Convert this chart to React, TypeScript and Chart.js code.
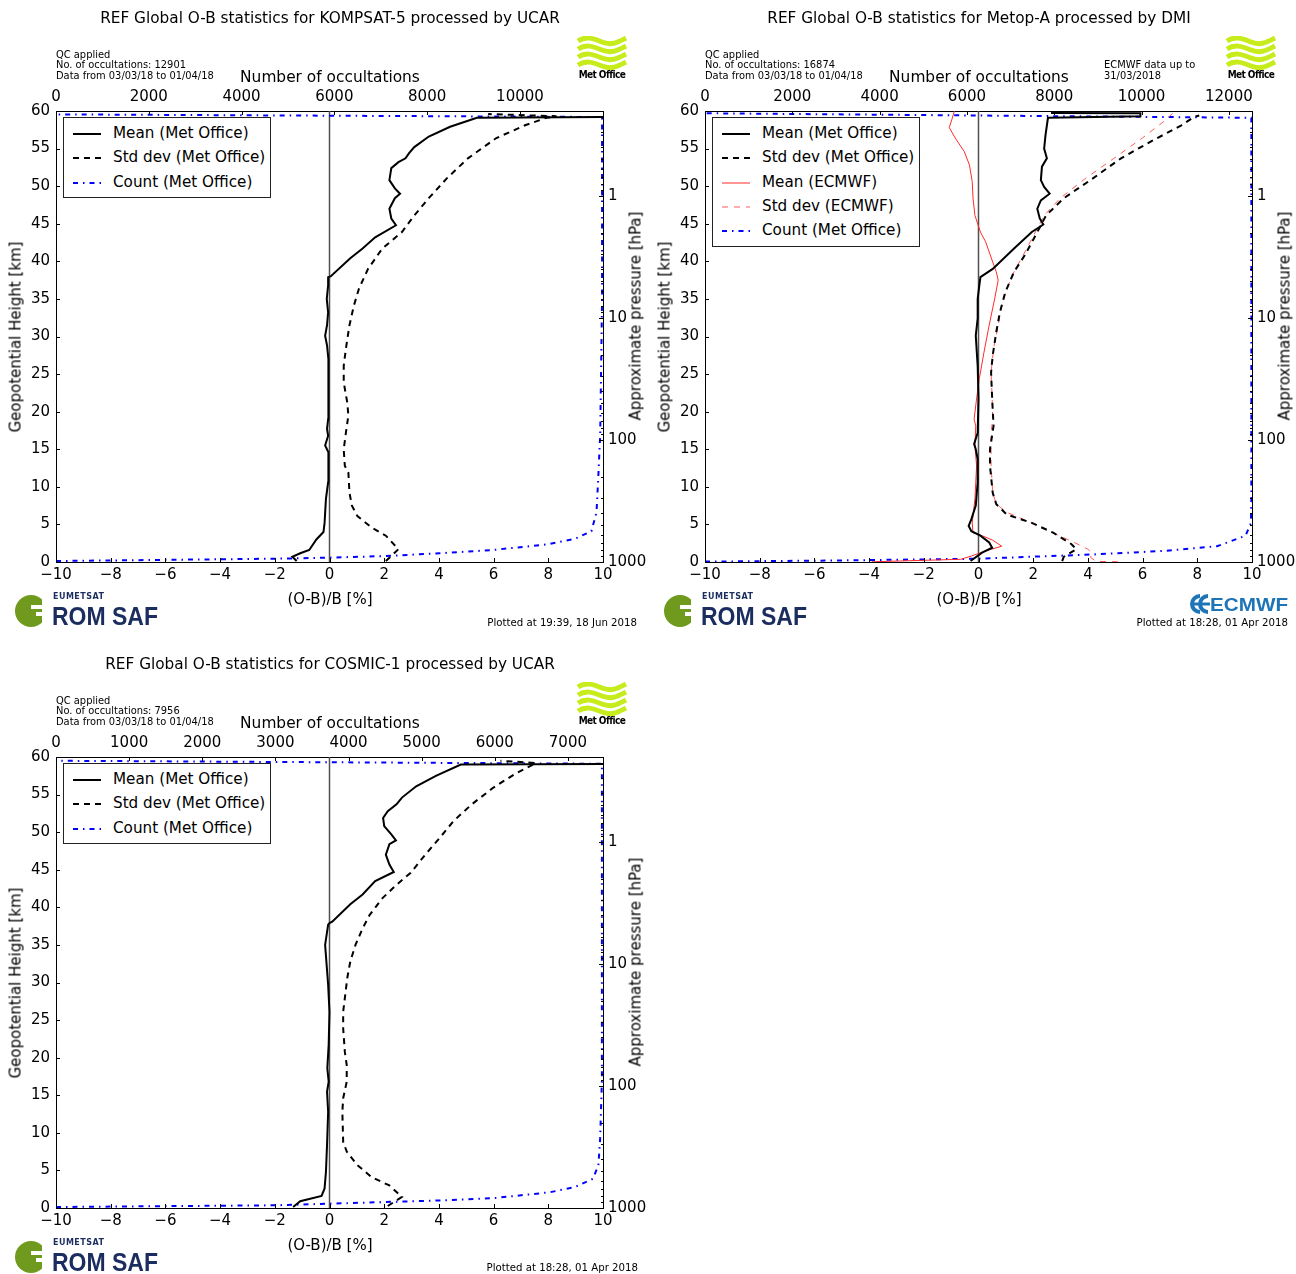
import React, { useEffect, useRef } from "react";
import { Chart, registerables } from "chart.js";

Chart.register(...registerables);

const FONT = "'DejaVu Sans', 'Bitstream Vera Sans', Verdana, sans-serif";

// ---------- KOMPSAT-5 (UCAR) ----------
const kompsatMeanX = [-1.2, -1.36, -1.07, -0.74, -0.48, -0.22, -0.18, -0.13, -0.05, -0.03, -0.05, -0.16, -0.05, -0.09, -0.05, -0.05, -0.03, -0.09, -0.16, -0.09, -0.05, -0.1, -0.05, -0.05, 0.04, 0.76, 1.21, 1.67, 2.43, 2.26, 2.19, 2.39, 2.58, 2.39, 2.19, 2.26, 2.52, 2.78, 2.91, 3.1, 3.63, 4.41, 5.39, 12];
const kompsatMeanH = [0.13, 0.7, 1.16, 1.6, 3.0, 4.0, 5.2, 8.4, 10.6, 12.8, 14.6, 15.5, 16.8, 17.7, 19, 23.9, 27, 28.8, 30.1, 31.5, 33.2, 35, 36.8, 37.9, 38.0, 40.4, 41.7, 43.2, 44.8, 45.7, 47, 48.4, 49, 49.7, 50.8, 52.4, 53.2, 53.7, 54.4, 55.2, 56.6, 57.9, 59.1, 59.25];
const kompsatStdX = [2.06, 2.52, 2.06, 1.54, 1.02, 0.82, 0.73, 0.69, 0.56, 0.52, 0.6, 0.69, 0.65, 0.52, 0.52, 0.6, 0.73, 0.89, 1.08, 1.41, 1.93, 2.65, 3.1, 3.63, 4.28, 5.06, 6.1, 7.15, 7.93, 8.3, 5.8];
const kompsatStdH = [0.13, 1.7, 3.5, 4.6, 6.1, 7.5, 9.2, 11.9, 12.8, 15, 17.2, 19.5, 21.2, 23.9, 26.1, 28.4, 31.5, 34.1, 36.4, 39, 41.7, 43.9, 46.1, 48.4, 51, 53.7, 56.4, 58.1, 59.1, 59.3, 59.6];
const kompsatCount = [0, 4730, 5920, 7110, 8270, 9420, 10610, 11190, 11540, 11650, 11690, 11730, 11770, 11770, 0];
const kompsatCountH = [0.13, 0.44, 0.58, 0.8, 1.16, 1.6, 2.36, 3.1, 4.1, 6.6, 11.5, 17, 35, 59.2, 59.55];

// ---------- Metop-A (DMI) ----------
const metopMeanX = [-0.29, 0.13, 0.5, 0.39, 0.07, -0.26, -0.36, -0.26, -0.1, -0.03, -0.03, -0.1, -0.16, -0.03, 0, -0.03, -0.1, -0.03, -0.03, 0.03, 0.07, 0.52, 1.3, 1.95, 2.37, 2.24, 2.15, 2.28, 2.6, 2.4, 2.28, 2.32, 2.5, 2.4, 2.45, 2.54, 5.92, 5.92, 2.65];
const metopMeanH = [0.13, 1.24, 1.9, 2.6, 3.5, 4.1, 4.8, 5.7, 7.5, 10.6, 13.7, 15, 15.7, 17.2, 21.7, 26.1, 30.1, 32.4, 35, 36.8, 37.9, 39, 41.7, 43.9, 44.9, 45.7, 47, 48.1, 49, 49.9, 50.8, 52.6, 53.7, 55, 56.8, 59.1, 59.3, 59.7, 59.75];
const metopStdX = [3.06, 3.12, 3.58, 3.39, 2.73, 1.95, 1.04, 0.65, 0.52, 0.42, 0.42, 0.55, 0.5, 0.46, 0.52, 0.65, 0.78, 0.98, 1.3, 1.69, 2.02, 2.47, 3.12, 4.17, 5.21, 6.38, 7.42, 7.88, 8.07];
const metopStdH = [0.13, 0.7, 1.7, 2.4, 3.9, 5.2, 6.3, 7.7, 9.2, 12.8, 15, 18.1, 21.7, 25.2, 27.5, 30.6, 33.2, 35.9, 38.6, 40.8, 43, 46.1, 48.4, 51, 53.7, 56.1, 58.1, 59.2, 59.4];
const ecmwfMeanX = [-3.9, -0.65, -0.26, 0.26, 0.85, 0.52, 0.13, -0.2, -0.23, -0.13, -0.07, -0.13, -0.1, -0.16, -0.07, 0.03, 0.2, 0.39, 0.59, 0.72, 0.65, 0.52, 0.26, 0.07, -0.13, -0.2, -0.23, -0.33, -0.52, -0.85, -1.07, -0.98, -0.88];
const ecmwfMeanH = [0.03, 0.36, 0.8, 1.47, 2.1, 2.9, 3.5, 3.9, 5.2, 8.4, 12.8, 15.5, 18.1, 19, 21.7, 24.4, 27.9, 31.5, 35, 37.5, 38.6, 39.9, 42.6, 43.9, 46.1, 48.4, 50.6, 52.8, 54.6, 56.4, 57.8, 58.8, 60];
const ecmwfStdX = [5.1, 4.3, 4.1, 4.14, 4.0, 3.5, 2.7, 1.95, 1.04, 0.65, 0.52, 0.46, 0.46, 0.52, 0.5, 0.46, 0.55, 0.72, 0.85, 1.04, 1.3, 1.63, 1.95, 2.4, 2.99, 3.9, 4.95, 5.99, 6.77, 7.1];
const ecmwfStdH = [0.03, 0.08, 0.6, 1.24, 1.7, 2.6, 3.9, 5.2, 6.6, 7.7, 9.2, 12.8, 17.2, 19, 21.7, 25.2, 28.4, 31.5, 34.1, 36.4, 38.6, 40.8, 43, 46.1, 48.4, 51, 53.7, 56.4, 58.6, 59.7];
const metopCount = [0, 3000, 6265, 8875, 10507, 11730, 12383, 12505, 12515, 12515, 0];
const metopCountH = [0.05, 0.2, 0.44, 1.0, 1.47, 2.1, 3.5, 5.2, 8.4, 59.1, 59.7];

// ---------- COSMIC-1 (UCAR) ----------
const cosmicMeanX = [-1.33, -1.07, -0.29, -0.18, -0.13, -0.09, -0.05, -0.09, -0.03, -0.08, -0.03, 0, -0.05, -0.16, -0.05, 0, 0.1, 0.76, 1.21, 1.67, 2.35, 2.19, 2.06, 2.19, 2.43, 2.26, 2.0, 1.96, 2.13, 2.45, 2.65, 3.17, 3.89, 4.8, 12];
const cosmicMeanH = [0.13, 0.9, 1.6, 2.6, 4.8, 8.4, 12.8, 15.5, 16.8, 18.6, 21.7, 26.1, 29.7, 35, 37.7, 37.9, 38.1, 40.4, 41.7, 43.5, 44.7, 45.7, 47, 48.4, 48.9, 49.7, 50.8, 51.9, 52.8, 53.7, 54.6, 56.1, 57.5, 59, 59.1];
const cosmicStdX = [2.13, 2.65, 2.19, 1.54, 1.02, 0.63, 0.5, 0.47, 0.5, 0.63, 0.63, 0.56, 0.5, 0.5, 0.56, 0.65, 0.76, 0.95, 1.21, 1.47, 1.93, 2.45, 2.97, 3.5, 4.02, 4.54, 5.2, 5.98, 6.76, 7.55, 6.25];
const cosmicStdH = [0.27, 1.47, 3.0, 4.1, 5.7, 7.5, 8.8, 12.8, 14.6, 16.8, 19, 20.8, 23.9, 26.1, 27.9, 30.6, 32.8, 35, 37.2, 39, 41.2, 43, 44.6, 47, 49.2, 51.5, 53.7, 55.9, 57.7, 59.2, 59.5];
const cosmicCount = [0, 3000, 3757, 4513, 5245, 5977, 6758, 7100, 7344, 7417, 7441, 7465, 7465, 0];
const cosmicCountH = [0.13, 0.36, 0.58, 0.8, 1.0, 1.3, 2.1, 2.8, 3.9, 5.7, 9.2, 17, 59.1, 59.5];

// ---------- axes ----------
const obTicks = [-10, -8, -6, -4, -2, 0, 2, 4, 6, 8, 10];
const heightTicks = [0, 5, 10, 15, 20, 25, 30, 35, 40, 45, 50, 55, 60];
const pressureLabels = [1, 10, 100, 1000];
const pressureTop = 0.201;
const pressureBottom = 1000;

const styles: Record<string, { color: string; width: number; dash: number[] }> = {
  meanMO: { color: "#000000", width: 2, dash: [] },
  stdMO: { color: "#000000", width: 2, dash: [6, 5] },
  meanEC: { color: "#ff2a2a", width: 1, dash: [] },
  stdEC: { color: "#ff5a5a", width: 1, dash: [6, 6] },
  count: { color: "#0000ff", width: 2, dash: [5, 5, 1.5, 5] },
};

const PLOT_L = 56;
const PLOT_T = 111;
const PLOT_R = 603;
const PLOT_B = 562;
const PANEL_H = 640;

function ds(xs: number[], hs: number[], st: { color: string; width: number; dash: number[] }, xAxisID = "x") {
  return {
    data: xs.map((x, i) => ({ x, y: hs[i] })),
    borderColor: st.color,
    borderWidth: st.width,
    borderDash: st.dash,
    xAxisID,
    yAxisID: "y",
    pointRadius: 0,
    fill: false,
    tension: 0,
  };
}

const fmt = (v: number) => String(v).replace("-", "\u2212");

const inwardTicks = {
  id: "inwardTicks",
  afterDatasetsDraw(chart: any) {
    const { ctx, chartArea: a, scales } = chart;
    ctx.save();
    ctx.strokeStyle = "#000";
    ctx.lineWidth = 1;
    const seg = (x1: number, y1: number, x2: number, y2: number) => {
      ctx.beginPath();
      ctx.moveTo(x1, y1);
      ctx.lineTo(x2, y2);
      ctx.stroke();
    };
    scales.x.ticks.forEach((t: any) => {
      const p = Math.round(scales.x.getPixelForValue(t.value)) + 0.5;
      seg(p, a.bottom, p, a.bottom - 4);
    });
    scales.xTop.ticks.forEach((t: any) => {
      const p = Math.round(scales.xTop.getPixelForValue(t.value)) + 0.5;
      seg(p, a.top, p, a.top + 4);
    });
    scales.y.ticks.forEach((t: any) => {
      const p = Math.round(scales.y.getPixelForValue(t.value)) + 0.5;
      seg(a.left, p, a.left + 4, p);
    });
    const yp = scales.yP;
    [0.1, 1, 10, 100].forEach((dec) => {
      [1, 2, 3, 4, 5, 6, 7, 8, 9].forEach((m) => {
        const v = dec * m;
        if (v < pressureTop || v > pressureBottom) return;
        const p = Math.round(yp.getPixelForValue(v)) + 0.5;
        seg(a.right, p, a.right - (m === 1 ? 4 : 2), p);
      });
    });
    ctx.restore();
  },
};

function PanelChart({ width, countMax, countStep, datasets }: { width: number; countMax: number; countStep: number; datasets: any[] }) {
  const ref = useRef<HTMLCanvasElement>(null);
  useEffect(() => {
    const tickFont = { family: FONT, size: 15 };
    const countTicks: number[] = [];
    for (let v = 0; v <= countMax; v += countStep) countTicks.push(v);
    const chart = new Chart(ref.current as HTMLCanvasElement, {
      type: "line",
      data: { datasets },
      options: {
        responsive: false,
        maintainAspectRatio: false,
        animation: false,
        events: [],
        layout: { padding: 0, autoPadding: false },
        plugins: { legend: { display: false }, tooltip: { enabled: false }, title: { display: false } },
        scales: {
          x: {
            type: "linear",
            position: "bottom",
            min: -10,
            max: 10,
            afterBuildTicks: (s: any) => { s.ticks = obTicks.map((v) => ({ value: v })); },
            ticks: { color: "#000", font: tickFont, padding: 4, maxRotation: 0, autoSkip: false, callback: (v: any) => fmt(v) },
            grid: { display: false, drawTicks: false },
            border: { display: true, color: "#000", width: 1 },
            afterFit: (s: any) => { s.height = PANEL_H - PLOT_B; },
          },
          xTop: {
            type: "linear",
            position: "top",
            min: 0,
            max: countMax,
            afterBuildTicks: (s: any) => { s.ticks = countTicks.map((v) => ({ value: v })); },
            ticks: { color: "#000", font: tickFont, padding: 5, maxRotation: 0, autoSkip: false, callback: (v: any) => String(v) },
            grid: { display: false, drawTicks: false },
            border: { display: true, color: "#000", width: 1 },
            afterFit: (s: any) => { s.height = PLOT_T; },
          },
          y: {
            type: "linear",
            position: "left",
            min: 0,
            max: 60,
            afterBuildTicks: (s: any) => { s.ticks = heightTicks.map((v) => ({ value: v })); },
            ticks: { color: "#000", font: tickFont, padding: 6, autoSkip: false, callback: (v: any) => String(v) },
            grid: { display: false, drawTicks: false },
            border: { display: true, color: "#000", width: 1 },
            afterFit: (s: any) => { s.width = PLOT_L; },
          },
          yP: {
            type: "logarithmic",
            position: "right",
            min: pressureTop,
            max: pressureBottom,
            reverse: true,
            afterBuildTicks: (s: any) => { s.ticks = pressureLabels.map((v) => ({ value: v, major: true })); },
            ticks: { color: "#000", font: tickFont, padding: 5, autoSkip: false, callback: (v: any) => String(v) },
            grid: { display: false, drawTicks: false },
            border: { display: true, color: "#000", width: 1 },
            afterFit: (s: any) => { s.width = width - PLOT_R; },
          },
        },
      } as any,
      plugins: [inwardTicks],
    });
    return () => chart.destroy();
  }, []);
  return <canvas ref={ref} width={width} height={PANEL_H} style={{ position: "absolute", left: 0, top: 0 }} />;
}

function Txt({ x, y, size, anchor = "start", children, weight, color }: any) {
  const tx = anchor === "middle" ? "-50%" : anchor === "end" ? "-100%" : "0";
  return (
    <div
      style={{
        position: "absolute",
        left: x,
        top: y,
        transform: `translate(${tx}, -50%)`,
        fontFamily: FONT,
        fontSize: size,
        lineHeight: 1,
        whiteSpace: "nowrap",
        fontWeight: weight || "normal",
        color: color || "#000",
      }}
    >
      {children}
    </div>
  );
}

function VTxt({ x, y, size, children }: any) {
  return (
    <div
      style={{
        position: "absolute",
        left: x,
        top: y,
        transform: "translate(-50%, -50%) rotate(-90deg)",
        fontFamily: FONT,
        fontSize: size,
        lineHeight: 1,
        whiteSpace: "nowrap",
        color: "#000",
      }}
    >
      {children}
    </div>
  );
}

function Legend({ items }: { items: { label: string; st: string }[] }) {
  const rowH = 24.3;
  return (
    <div
      style={{
        position: "absolute",
        left: 63,
        top: 117,
        width: 206,
        height: 8 + items.length * rowH - 2,
        border: "1px solid #222",
        background: "#fff",
      }}
    >
      {items.map((it, i) => {
        const st = styles[it.st];
        const cy = 4 + rowH * i + rowH / 2;
        return (
          <React.Fragment key={i}>
            <svg style={{ position: "absolute", left: 9, top: cy - 5 }} width={30} height={10}>
              <line x1={0} y1={5} x2={28} y2={5} stroke={st.color} strokeWidth={st.width} strokeDasharray={st.dash.length ? st.dash.join(",") : undefined} />
            </svg>
            <Txt x={49} y={cy} size={15.2}>{it.label}</Txt>
          </React.Fragment>
        );
      })}
    </div>
  );
}

function MetOfficeLogo() {
  const c = "#c6ec1c";
  return (
    <div style={{ position: "absolute", left: 576, top: 36, width: 52, height: 46 }}>
      <svg width={52} height={34} style={{ position: "absolute", left: 0, top: 0 }}>
        <path d="M2,5 C10,0 16,2 26,6 C36,10 42,6 50,2" stroke={c} strokeWidth={5} fill="none" />
        <path d="M2,13 C10,8 16,10 26,14 C36,18 42,14 50,10" stroke={c} strokeWidth={5} fill="none" />
        <path d="M2,21 C10,16 16,18 26,22 C36,26 42,22 50,18" stroke={c} strokeWidth={5} fill="none" />
        <path d="M2,29 C10,24 16,26 26,30 C36,34 42,30 50,26" stroke={c} strokeWidth={5} fill="none" />
      </svg>
      <Txt x={26} y={39} size={10} anchor="middle" weight="bold">
        <span style={{ letterSpacing: "-0.6px", fontFamily: "'Liberation Sans Narrow', 'DejaVu Sans Condensed', 'Liberation Sans', sans-serif" }}>Met Office</span>
      </Txt>
    </div>
  );
}

function RomSafLogo() {
  const navy = "#1b2d5f";
  return (
    <svg style={{ position: "absolute", left: 12, top: 590 }} width={150} height={40}>
      <circle cx={19} cy={21} r={16} fill="#6f9a1e" />
      <rect x={19} y={15} width={18} height={4} fill="#fff" />
      <rect x={24} y={22} width={13} height={4} fill="#fff" />
      <path d="M30,5 L40,12 L40,30 L30,37 Z" fill="#fff" />
      <text x={41} y={9} fontFamily={FONT} fontSize={8} fontWeight="bold" fill={navy} textLength={51}>EUMETSAT</text>
      <text x={40} y={35} fontFamily="'Liberation Sans', 'DejaVu Sans', sans-serif" fontSize={25} fontWeight="bold" fill={navy} textLength={106} lengthAdjust="spacingAndGlyphs">ROM SAF</text>
    </svg>
  );
}

function EcmwfLogo() {
  const blue = "#1d74b7";
  return (
    <svg style={{ position: "absolute", left: 540, top: 593 }} width={102} height={22}>
      <path d="M11,3 A8,8 0 1 0 11,19" stroke={blue} strokeWidth={4} fill="none" />
      <path d="M19,3 A8,8 0 1 0 19,19" stroke={blue} strokeWidth={4} fill="none" />
      <rect x={5} y={9.5} width={16} height={3} fill={blue} />
      <text x={21} y={18} fontFamily="'Liberation Sans', sans-serif" fontSize={19} fontWeight="bold" fill={blue} textLength={78} lengthAdjust="spacingAndGlyphs">ECMWF</text>
    </svg>
  );
}

interface PanelDef {
  left: number;
  top: number;
  width: number;
  title: string;
  nOcc: number;
  plotted: string;
  plottedY: number;
  plottedX: number;
  countMax: number;
  countStep: number;
  datasets: any[];
  legend: { label: string; st: string }[];
  ecmwf?: boolean;
}

function Panel(p: PanelDef) {
  return (
    <div style={{ position: "absolute", left: p.left, top: p.top, width: p.width, height: PANEL_H, overflow: "hidden" }}>
      <PanelChart width={p.width} countMax={p.countMax} countStep={p.countStep} datasets={p.datasets} />
      <Txt x={330} y={19} size={15.3} anchor="middle">{p.title}</Txt>
      <Txt x={56} y={55} size={9.9}>QC applied</Txt>
      <Txt x={56} y={65} size={9.9}>No. of occultations: {p.nOcc}</Txt>
      <Txt x={56} y={75.5} size={9.9}>Data from 03/03/18 to 01/04/18</Txt>
      {p.ecmwf && <Txt x={455} y={65} size={9.9}>ECMWF data up to</Txt>}
      {p.ecmwf && <Txt x={455} y={75.5} size={9.9}>31/03/2018</Txt>}
      <Txt x={330} y={78} size={15.4} anchor="middle">Number of occultations</Txt>
      <MetOfficeLogo />
      <Legend items={p.legend} />
      <Txt x={330} y={599} size={15} anchor="middle">(O-B)/B [%]</Txt>
      <VTxt x={16} y={337} size={15}>Geopotential Height [km]</VTxt>
      <VTxt x={636} y={316} size={15}>Approximate pressure [hPa]</VTxt>
      <RomSafLogo />
      {p.ecmwf && <EcmwfLogo />}
      <Txt x={p.plottedX} y={p.plottedY} size={10.2} anchor="end">{p.plotted}</Txt>
    </div>
  );
}

const zeroH = [0, 60];
const zeroX = [0, 0];
const zeroStyle = { color: "#505050", width: 1.5, dash: [] as number[] };

export default function App() {
  const moLegend = [
    { label: "Mean (Met Office)", st: "meanMO" },
    { label: "Std dev (Met Office)", st: "stdMO" },
    { label: "Count (Met Office)", st: "count" },
  ];
  const metopLegend = [
    { label: "Mean (Met Office)", st: "meanMO" },
    { label: "Std dev (Met Office)", st: "stdMO" },
    { label: "Mean (ECMWF)", st: "meanEC" },
    { label: "Std dev (ECMWF)", st: "stdEC" },
    { label: "Count (Met Office)", st: "count" },
  ];
  return (
    <div style={{ position: "absolute", left: 0, top: 0, width: 1296, height: 1274, overflow: "hidden", background: "#fff" }}>
      <Panel
        left={0}
        top={0}
        width={648}
        title="REF Global O-B statistics for KOMPSAT-5 processed by UCAR"
        nOcc={12901}
        plotted="Plotted at 19:39, 18 Jun 2018"
        plottedX={637}
        plottedY={623}
        countMax={11790}
        countStep={2000}
        legend={moLegend}
        datasets={[
          ds(kompsatMeanX, kompsatMeanH, styles.meanMO),
          ds(kompsatStdX, kompsatStdH, styles.stdMO),
          ds(kompsatCount, kompsatCountH, styles.count, "xTop"),
          ds(zeroX, zeroH, zeroStyle),
        ]}
      />
      <Panel
        left={649}
        top={0}
        width={647}
        title="REF Global O-B statistics for Metop-A processed by DMI"
        nOcc={16874}
        plotted="Plotted at 18:28, 01 Apr 2018"
        plottedX={639}
        plottedY={623}
        countMax={12530}
        countStep={2000}
        legend={metopLegend}
        ecmwf
        datasets={[
          ds(metopMeanX, metopMeanH, styles.meanMO),
          ds(metopStdX, metopStdH, styles.stdMO),
          ds(ecmwfMeanX, ecmwfMeanH, styles.meanEC),
          ds(ecmwfStdX, ecmwfStdH, styles.stdEC),
          ds(metopCount, metopCountH, styles.count, "xTop"),
          ds(zeroX, zeroH, zeroStyle),
        ]}
      />
      <Panel
        left={0}
        top={646}
        width={648}
        title="REF Global O-B statistics for COSMIC-1 processed by UCAR"
        nOcc={7956}
        plotted="Plotted at 18:28, 01 Apr 2018"
        plottedX={638}
        plottedY={622}
        countMax={7480}
        countStep={1000}
        legend={moLegend}
        datasets={[
          ds(cosmicMeanX, cosmicMeanH, styles.meanMO),
          ds(cosmicStdX, cosmicStdH, styles.stdMO),
          ds(cosmicCount, cosmicCountH, styles.count, "xTop"),
          ds(zeroX, zeroH, zeroStyle),
        ]}
      />
    </div>
  );
}
